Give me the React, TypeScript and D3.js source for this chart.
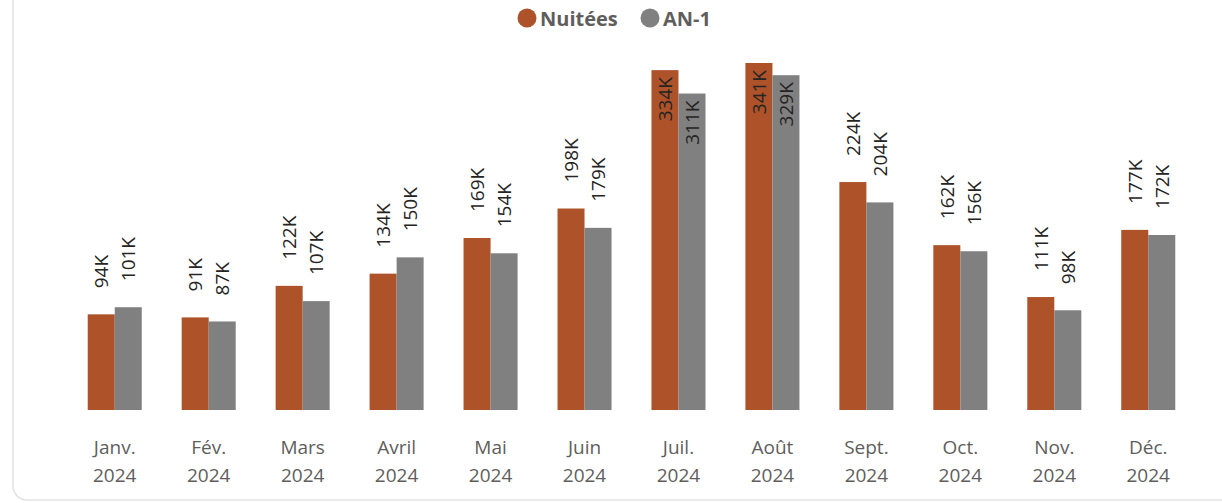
import React from 'react';
import * as d3 from 'd3';

const months = ['Janv.', 'Fév.', 'Mars', 'Avril', 'Mai', 'Juin', 'Juil.', 'Août', 'Sept.', 'Oct.', 'Nov.', 'Déc.'];
const year = '2024';
const nuitees = [94, 91, 122, 134, 169, 198, 334, 341, 224, 162, 111, 177];
const an1 = [101, 87, 107, 150, 154, 179, 311, 329, 204, 156, 98, 172];
const seriesNames = ['Nuitées', 'AN-1'];
const colors = ['#AD5229', '#808080'];

const width = 1222;
const height = 503;
const margin = { left: 68, right: 27, top: 40, bottom: 93 };
const baseline = height - margin.bottom;
const font = '"Open Sans", "Noto Sans", sans-serif';

export default function App() {
  const x0 = d3.scaleBand<string>()
    .domain(months)
    .range([margin.left, width - margin.right])
    .paddingInner(0.425)
    .paddingOuter(0.21);

  const x1 = d3.scaleBand<number>()
    .domain([0, 1])
    .range([0, x0.bandwidth()]);

  const y = d3.scaleLinear()
    .domain([0, 341])
    .range([baseline, baseline - 347]);

  const series = [nuitees, an1];

  return (
    <svg width={width} height={height} style={{ position: 'absolute', left: 0, top: 0, fontFamily: font }}>
      <rect x={13} y={-30} width={1240} height={530} rx={14} fill="#fff" stroke="#e3e3e3" strokeWidth={1.5} />

      <g>
        <circle cx={527} cy={18} r={9.5} fill={colors[0]} />
        <text x={540} y={18} dominantBaseline="central" fontSize={20} fontWeight={700} fill="#605E5C">{seriesNames[0]}</text>
        <circle cx={650} cy={18} r={9.5} fill={colors[1]} />
        <text x={663} y={18} dominantBaseline="central" fontSize={20} fontWeight={700} fill="#605E5C">{seriesNames[1]}</text>
      </g>

      {months.map((m, i) => (
        <g key={m} transform={`translate(${x0(m)},0)`}>
          {series.map((vals, s) => {
            const v = vals[i];
            const bx = x1(s)!;
            const bw = x1.bandwidth();
            const top = y(v);
            const cx = bx + bw / 2;
            const inside = v > 300;
            const ly = inside ? top + 7 : top - 26;
            return (
              <g key={s}>
                <rect x={bx} y={top} width={bw} height={baseline - top} fill={colors[s]} />
                <text
                  transform={`translate(${cx},${ly}) rotate(-90)`}
                  textAnchor={inside ? 'end' : 'start'}
                  dominantBaseline="central"
                  fontSize={19}
                  fill="#252423"
                >
                  {v}K
                </text>
              </g>
            );
          })}
          <text x={x0.bandwidth() / 2} y={447} textAnchor="middle" dominantBaseline="central" fontSize={19} fill="#605E5C">{m}</text>
          <text x={x0.bandwidth() / 2} y={475} textAnchor="middle" dominantBaseline="central" fontSize={19} fill="#605E5C">{year}</text>
        </g>
      ))}
    </svg>
  );
}
